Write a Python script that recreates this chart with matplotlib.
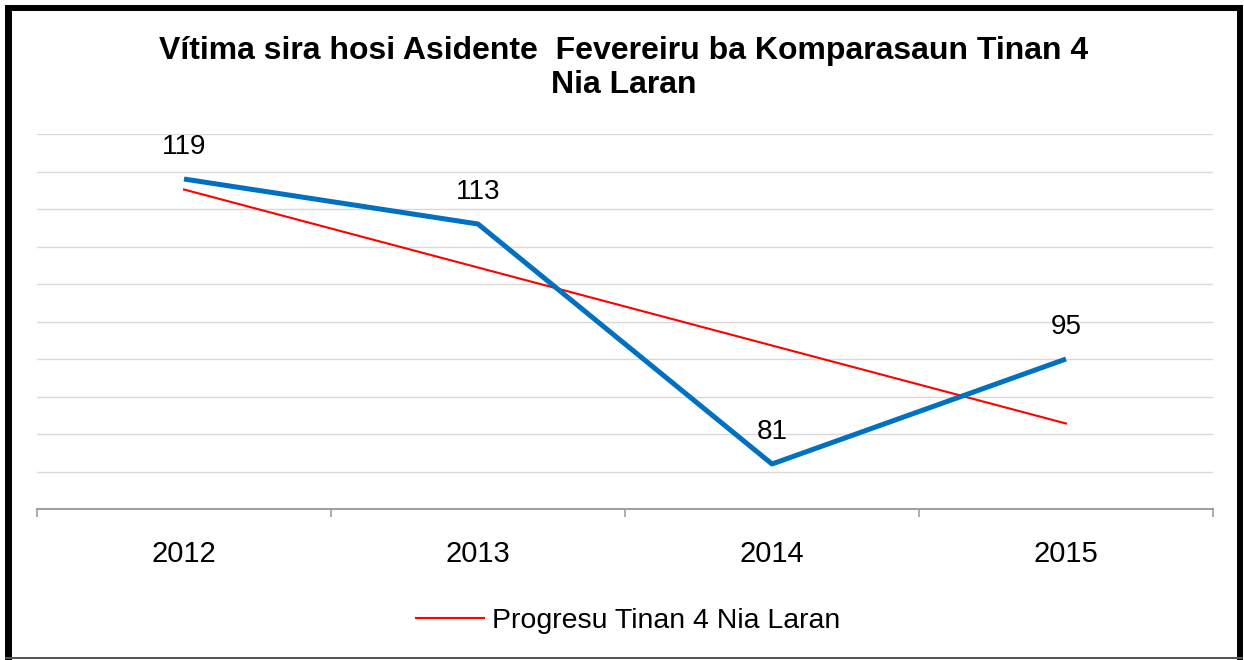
#!/usr/bin/env python3

import matplotlib
matplotlib.use('Agg')
import matplotlib.pyplot as plt
from matplotlib.patches import Rectangle
from matplotlib.lines import Line2D

plt.rcParams['font.family'] = ['Liberation Sans', 'DejaVu Sans']

# dadus
years = ['2012', '2013', '2014', '2015']
victims = [119, 113, 81, 95]
# liña tendénsia (lee husi gráfiku)
trend = [117.6, 107.2, 96.8, 86.4]

title = 'Vítima sira hosi Asidente  Fevereiru ba Komparasaun Tinan 4\nNia Laran'
legend_label = 'Progresu Tinan 4 Nia Laran'

W, H = 1244, 660
fig = plt.figure(figsize=(W / 100, H / 100), dpi=100)
fig.patch.set_facecolor('white')

ax = fig.add_axes([37 / W, 1 - 509 / H, (1213 - 37) / W, (509 - 134) / H])
x = list(range(len(years)))

ax.plot(x, trend, color='#FF0000', linewidth=1.5, zorder=3)
ax.plot(x, victims, color='#0070C0', linewidth=3.6, solid_capstyle='butt', zorder=4)

for xi, v in zip(x, victims):
    ax.annotate(str(v), (xi, v), xytext=(0, 32), textcoords='offset pixels',
                ha='center', va='center', fontsize=20, color='black')

ax.set_xlim(-0.5, 3.5)
ax.set_ylim(75, 125)
ax.set_yticks(range(75, 126, 5))
ax.yaxis.grid(True, color='#D9D9D9', linewidth=1)
ax.tick_params(axis='y', left=False, labelleft=False)
ax.set_xticks(x)
ax.set_xticklabels(years, fontsize=21)
ax.set_xticks([-0.5, 0.5, 1.5, 2.5, 3.5], minor=True)
ax.tick_params(axis='x', which='major', length=0, pad=22)
ax.tick_params(axis='x', which='minor', length=6, color='#A0A0A0', width=1.2)
for s in ['top', 'left', 'right']:
    ax.spines[s].set_visible(False)
ax.spines['bottom'].set_color('#A0A0A0')
ax.spines['bottom'].set_linewidth(1.5)

fig.text(624 / W, 1 - 68 / H, title, ha='center', va='center',
         fontsize=23, fontweight='bold', linespacing=1.2)

handle = Line2D([0], [0], color='#FF0000', linewidth=1.5)
fig.legend([handle], [legend_label], loc='center', bbox_to_anchor=(628 / W, 1 - 621 / H),
           frameon=False, fontsize=20.5, handlelength=2.4, handletextpad=0.25)

# kuadru
def px_rect(x0, y0, x1, y1, color):
    fig.add_artist(Rectangle((x0 / W, 1 - y1 / H), (x1 - x0) / W, (y1 - y0) / H,
                             transform=fig.transFigure, facecolor=color,
                             edgecolor='none', zorder=10))

px_rect(5, 5, 1243, 11, 'black')
px_rect(5, 5, 12, 660, 'black')
px_rect(1237, 5, 1243, 660, 'black')
px_rect(5, 657, 1243, 659, '#555555')

fig.savefig('out.png', dpi=100)
